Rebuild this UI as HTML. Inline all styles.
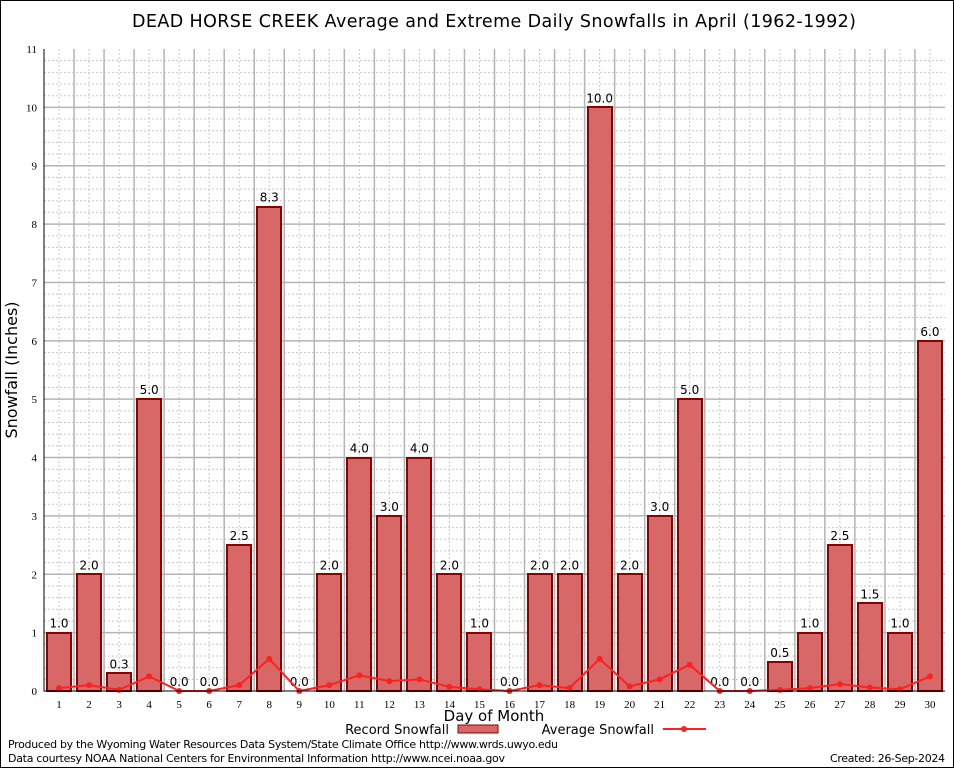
<!DOCTYPE html>
<html><head><meta charset="utf-8"><style>
body{margin:0;background:#fff}
svg{display:block;font-family:"DejaVu Sans","Liberation Sans",sans-serif}
</style></head><body>
<svg id="chart" width="954" height="768" viewBox="0 0 954 768" xmlns="http://www.w3.org/2000/svg">
<rect x="0.5" y="0.5" width="953" height="767" fill="#fff" stroke="#000"/>
<text x="494" y="27" text-anchor="middle" font-size="17.5" textLength="724">DEAD HORSE CREEK Average and Extreme Daily Snowfalls in April (1962-1992)</text>
<g id="grid"></g>
<g id="bars"></g>
<g id="avg"></g>
<g id="axes"></g>
<text x="17" y="370" font-size="16" text-anchor="middle" transform="rotate(-90 17 370)">Snowfall (Inches)</text>
<text x="494" y="721" font-size="15" text-anchor="middle">Day of Month</text>
<g font-size="13">
<text x="449" y="734" text-anchor="end">Record Snowfall</text>
<rect x="458" y="725" width="40" height="8" fill="#d86868" stroke="#8b0000"/>
<text x="654" y="734" text-anchor="end">Average Snowfall</text>
<line x1="663" y1="729" x2="706" y2="729" stroke="#ff2020" stroke-width="2"/>
<circle cx="684" cy="729" r="3" fill="#ff2020"/>
</g>
<text x="8" y="748" font-size="11" textLength="550">Produced by the Wyoming Water Resources Data System/State Climate Office http://www.wrds.uwyo.edu</text>
<text x="8" y="762" font-size="11" textLength="497">Data courtesy NOAA National Centers for Environmental Information http://www.ncei.noaa.gov</text>
<text x="945" y="762" font-size="11" text-anchor="end" textLength="115">Created:  26-Sep-2024</text>
</svg>
<script>
const days=[1,2,3,4,5,6,7,8,9,10,11,12,13,14,15,16,17,18,19,20,21,22,23,24,25,26,27,28,29,30];
const records=[1.0,2.0,0.3,5.0,0.0,0.0,2.5,8.3,0.0,2.0,4.0,3.0,4.0,2.0,1.0,0.0,2.0,2.0,10.0,2.0,3.0,5.0,0.0,0.0,0.5,1.0,2.5,1.5,1.0,6.0];
const averages=[0.05,0.1,0.02,0.25,0,0,0.1,0.55,0,0.1,0.27,0.17,0.2,0.07,0.03,0,0.1,0.05,0.55,0.08,0.2,0.45,0,0,0.02,0.05,0.12,0.06,0.03,0.25];
const yTicks=[0,1,2,3,4,5,6,7,8,9,10,11];
const NS="http://www.w3.org/2000/svg";
const L=44,R=945,T=49,B=691,YMAX=11;
const step=(R-L)/days.length;
const x=d=>L+(d-0.5)*step;
const y=v=>B-v/YMAX*(B-T);
function mk(p,tag,a){const e=document.createElementNS(NS,tag);for(const k in a)e.setAttribute(k,a[k]);p.appendChild(e);return e;}
const grid=document.getElementById('grid'),bars=document.getElementById('bars'),avg=document.getElementById('avg'),axes=document.getElementById('axes');
for(let v=0.2;v<YMAX;v+=0.2){if(Math.abs(v-Math.round(v))<0.01)continue;const l=mk(grid,'line',{x1:L,x2:R,y1:y(v),y2:y(v),stroke:'#c8c8c8','stroke-dasharray':'2,2'});

}
days.forEach(d=>{const l=mk(grid,'line',{x1:x(d),x2:x(d),y1:T,y2:B,stroke:'#c8c8c8','stroke-dasharray':'2,2'});

});
for(let i=1;i<days.length;i++){const l=mk(grid,'line',{x1:L+i*step,x2:L+i*step,y1:T,y2:B,stroke:'#b4b4b4','stroke-width':1.5});

}
yTicks.forEach(v=>{if(v>0&&v<YMAX){const l=mk(grid,'line',{x1:L,x2:R,y1:y(v),y2:y(v),stroke:'#b4b4b4','stroke-width':1.5});

}
const t=mk(axes,'text',{x:L-7,y:y(v)+4,'text-anchor':'end','font-size':11,'font-family':'Liberation Serif,serif'});t.textContent=v;

});
days.forEach((d,i)=>{const v=records[i];
if(v>0){const r=mk(bars,'rect',{x:Math.round(x(d)-12),y:Math.round(y(v)),width:24,height:B-Math.round(y(v)),fill:'#d86868',stroke:'#8b0000','stroke-width':2});

}
const t=mk(bars,'text',{x:x(d),y:y(v)-5,'text-anchor':'middle','font-size':12});t.textContent=v.toFixed(1);


const xt=mk(axes,'text',{x:x(d),y:B+17,'text-anchor':'middle','font-size':11,'font-family':'Liberation Serif,serif'});xt.textContent=d;

});
const pl=mk(avg,'polyline',{points:days.map((d,i)=>x(d)+','+y(averages[i])).join(' '),fill:'none',stroke:'#ff2020','stroke-width':2});


days.forEach((d,i)=>{const c=mk(avg,'circle',{cx:x(d),cy:y(averages[i]),r:3,fill:'#ff2020'});

});
const ax=mk(axes,'path',{d:`M${L},${T}V${B}H${R}`,fill:'none',stroke:'#000'});


</script>
</body></html>
